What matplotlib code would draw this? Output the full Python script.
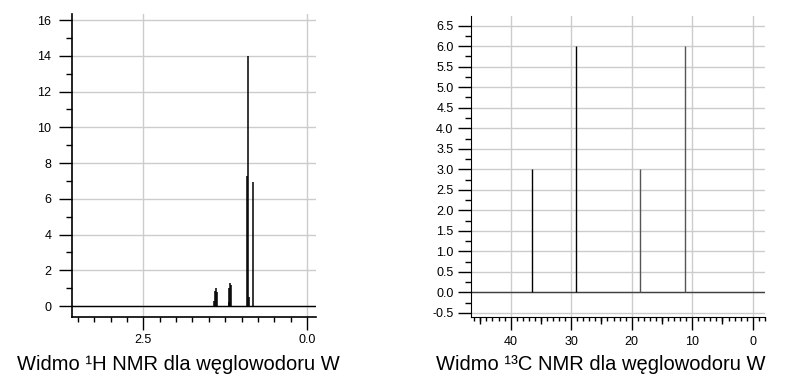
import matplotlib
matplotlib.use("Agg")
import matplotlib.pyplot as plt
from matplotlib.ticker import MultipleLocator, FixedLocator, FormatStrFormatter
import numpy as np

plt.rcParams['font.family'] = ['Liberation Sans', 'DejaVu Sans']
plt.rcParams['axes.unicode_minus'] = False

# 1H NMR lines (ppm, intensity)
h_ppm = [1.418, 1.402, 1.387, 1.372, 1.200, 1.189, 1.174, 1.159, 0.915, 0.899, 0.889, 0.835]
h_int = [0.30, 0.85, 1.00, 0.80, 0.25, 1.00, 1.27, 1.15, 7.30, 14.0, 0.50, 6.95]
h_xticks = [2.5, 0.0]
h_xticklabels = ["2.5", "0.0"]

# 13C NMR lines (ppm, intensity)
c_ppm = [36.5, 29.15, 18.6, 11.15]
c_int = [3.0, 6.0, 3.0, 6.0]
c_colors = ["#000000", "#000000", "#555555", "#555555"]

title_h = "Widmo \u00b9H NMR dla węglowodoru W"
title_c = "Widmo \u00b9\u00b3C NMR dla węglowodoru W"

W, H = 785, 381
fig = plt.figure(figsize=(W / 100, H / 100), dpi=100)

def frac(x0, y0, x1, y1):
    return [x0 / W, 1 - y1 / H, (x1 - x0) / W, (y1 - y0) / H]

grid_c = "#cccccc"

# ---------- Left: 1H ----------
ax1 = fig.add_axes(frac(72, 14, 316, 317))
ax1.set_xlim(3.587, -0.133)
ax1.set_ylim(-0.615, 16.34)
ax1.axhline(0, color="black", lw=1.0, zorder=2)
ax1.vlines(h_ppm, 0, h_int, color="black", lw=1.1, zorder=3)
ax1.xaxis.set_major_locator(FixedLocator(h_xticks))
ax1.set_xticklabels(h_xticklabels)
ax1.xaxis.set_minor_locator(MultipleLocator(0.25))
ax1.yaxis.set_major_locator(MultipleLocator(2))
ax1.yaxis.set_minor_locator(MultipleLocator(1))
ax1.grid(True, which="major", color=grid_c, lw=1.0, zorder=0)
ax1.tick_params(axis="y", which="major", length=9.4, width=1, pad=5.5, labelsize=9)
ax1.tick_params(axis="y", which="minor", length=4.3, width=1)
ax1.tick_params(axis="x", which="major", length=9.4, width=1, pad=3, labelsize=9)
ax1.tick_params(axis="x", which="minor", length=3.8, width=1)
for s in ("top", "right"):
    ax1.spines[s].set_visible(False)
for s in ("left", "bottom"):
    ax1.spines[s].set_linewidth(1.2)
ax1.set_axisbelow(True)

# ---------- Right: 13C ----------
ax2 = fig.add_axes(frac(470.7, 16, 765, 317))
ax2.set_xlim(46.6, -2.03)
ax2.set_ylim(-0.602, 6.737)
ax2.axhline(0, color="#404040", lw=1.0, zorder=2)
ax2.vlines(c_ppm, 0, c_int, colors=c_colors, lw=1.0, zorder=3)
ax2.xaxis.set_major_locator(MultipleLocator(10))
ax2.xaxis.set_minor_locator(MultipleLocator(1))
ax2.xaxis.set_major_formatter(FormatStrFormatter("%d"))
ax2.yaxis.set_major_locator(MultipleLocator(0.5))
ax2.yaxis.set_minor_locator(MultipleLocator(0.25))
ax2.yaxis.set_major_formatter(FormatStrFormatter("%.1f"))
ax2.grid(True, which="major", color=grid_c, lw=1.0, zorder=0)
ax2.tick_params(axis="y", which="major", length=9.4, width=1, pad=3, labelsize=9)
ax2.tick_params(axis="y", which="minor", length=4.3, width=1)
ax2.tick_params(axis="x", which="major", length=9.4, width=1, pad=4, labelsize=9)
ax2.tick_params(axis="x", which="minor", length=2.9, width=1)
for s in ("top", "right"):
    ax2.spines[s].set_visible(False)
ax2.set_axisbelow(True)
sec = ax2.secondary_xaxis("bottom")
sec.xaxis.set_major_locator(FixedLocator([45, 35, 25, 15, 5]))
sec.tick_params(axis="x", which="major", length=5, width=1, labelbottom=False)
sec.xaxis.set_minor_locator(FixedLocator([]))
sec.spines["bottom"].set_visible(False)

fig.text(178 / W, 1 - 364 / H, title_h, ha="center", va="center", fontsize=14.5)
fig.text(601 / W, 1 - 364 / H, title_c, ha="center", va="center", fontsize=14.5)

fig.savefig("out.png", dpi=100)
